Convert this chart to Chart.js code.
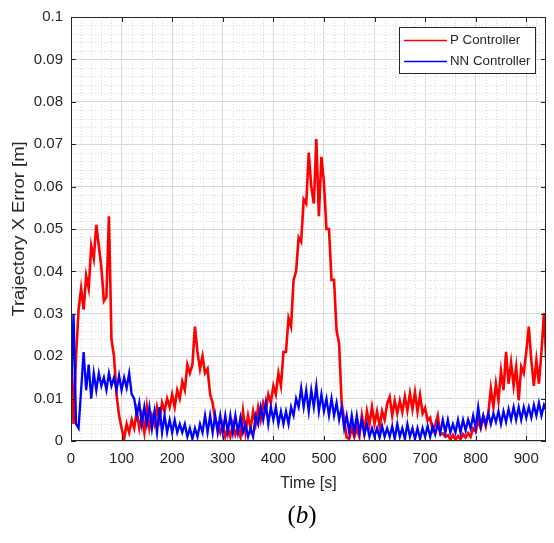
<!DOCTYPE html>
<html>
<head>
<meta charset="utf-8">
<script src="https://cdn.jsdelivr.net/npm/chart.js@4/dist/chart.umd.min.js"></script>
<style>
  html, body { margin: 0; padding: 0; background: #fff; }
  #wrap { position: relative; width: 554px; height: 543px; }
  #caption {
    position: absolute; left: 250px; width: 104px; top: 502px;
    text-align: center; font-family: "Liberation Serif", "DejaVu Serif", serif;
    font-size: 25px; color: #000; line-height: 26px;
  }
</style>
</head>
<body>
<div id="wrap">
  <canvas id="chart" width="554" height="543"></canvas>
  <div id="caption">(<i>b</i>)</div>
</div>
<script>
// Trajectory X error, P controller vs NN controller

// sample times [s]
const timeS = [
  0, 5, 10, 15, 20, 25, 30, 35, 40, 45,
  50, 55, 60, 65, 70, 75, 80, 85, 90, 95,
  100, 105, 110, 115, 120, 125, 130, 135, 140, 145,
  150, 155, 160, 165, 170, 175, 180, 185, 190, 195,
  200, 205, 210, 215, 220, 225, 230, 235, 240, 245,
  250, 255, 260, 265, 270, 275, 280, 285, 290, 295,
  300, 305, 310, 315, 320, 325, 330, 335, 340, 345,
  350, 355, 360, 365, 370, 375, 380, 385, 390, 395,
  400, 405, 410, 415, 420, 425, 430, 435, 440, 445,
  450, 455, 460, 465, 470, 475, 480, 485, 490, 495,
  500, 505, 510, 515, 520, 525, 530, 535, 540, 545,
  550, 555, 560, 565, 570, 575, 580, 585, 590, 595,
  600, 605, 610, 615, 620, 625, 630, 635, 640, 645,
  650, 655, 660, 665, 670, 675, 680, 685, 690, 695,
  700, 705, 710, 715, 720, 725, 730, 735, 740, 745,
  750, 755, 760, 765, 770, 775, 780, 785, 790, 795,
  800, 805, 810, 815, 820, 825, 830, 835, 840, 845,
  850, 855, 860, 865, 870, 875, 880, 885, 890, 895,
  900, 905, 910, 915, 920, 925, 930, 935, 940
];

// P controller error [m]
const pController = [
  0.024, 0.004, 0.020, 0.031, 0.036, 0.031, 0.039, 0.036, 0.046, 0.043,
  0.051, 0.046, 0.041, 0.033, 0.034, 0.053, 0.024, 0.020, 0.011, 0.006,
  0.003, 0.0005, 0.004, 0.002, 0.005, 0.003, 0.007, 0.003, 0.006, 0.002,
  0.008, 0.003, 0.006, 0.004, 0.008, 0.005, 0.009, 0.007, 0.010, 0.008,
  0.011, 0.008, 0.012, 0.010, 0.014, 0.012, 0.018, 0.016, 0.018, 0.027,
  0.021, 0.017, 0.020, 0.016, 0.017, 0.011, 0.009, 0.005, 0.004, 0.002,
  0.004, 0.001, 0.003, 0.001, 0.004, 0.0015, 0.003, 0.001, 0.007, 0.002,
  0.006, 0.003, 0.007, 0.004, 0.008, 0.005, 0.009, 0.007, 0.011, 0.009,
  0.013, 0.011, 0.016, 0.013, 0.021, 0.021, 0.029, 0.027, 0.038, 0.040,
  0.048, 0.047, 0.057, 0.056, 0.068, 0.060, 0.056, 0.0712, 0.053, 0.067,
  0.061, 0.050, 0.050, 0.038, 0.038, 0.026, 0.023, 0.009, 0.005, 0.0008,
  0.0005, 0.003, 0.001, 0.003, 0.001, 0.006, 0.002, 0.007, 0.004, 0.008,
  0.004, 0.007, 0.0035, 0.007, 0.005, 0.0088, 0.0104, 0.006, 0.0095, 0.0065,
  0.0095, 0.0068, 0.0105, 0.0072, 0.0112, 0.0075, 0.0115, 0.007, 0.0108, 0.0065,
  0.0078, 0.0048, 0.0055, 0.0025, 0.0038, 0.006, 0.0015, 0.0018, 0.001, 0.0014,
  0.0003, 0.0014, 0.0003, 0.0012, 0.0004, 0.0016, 0.0008, 0.0019, 0.001, 0.003,
  0.0022, 0.0048, 0.003, 0.0058, 0.0035, 0.0066, 0.0124, 0.008, 0.0135, 0.0095,
  0.0165, 0.012, 0.021, 0.0135, 0.0185, 0.013, 0.0175, 0.0096, 0.0175, 0.016,
  0.021, 0.027, 0.019, 0.013, 0.019, 0.0135, 0.021, 0.0302, 0.0175
];

// NN controller error [m]
const nnController = [
  0.010, 0.030, 0.004, 0.003, 0.012, 0.021, 0.012, 0.018, 0.010, 0.016,
  0.012, 0.016, 0.013, 0.015, 0.012, 0.016, 0.013, 0.015, 0.012, 0.0155,
  0.012, 0.015, 0.0125, 0.016, 0.011, 0.010, 0.006, 0.009, 0.004, 0.008,
  0.004, 0.008, 0.003, 0.007, 0.002, 0.008, 0.002, 0.006, 0.002, 0.005,
  0.002, 0.005, 0.002, 0.004, 0.002, 0.004, 0.001, 0.003, 0.0005, 0.003,
  0.001, 0.004, 0.002, 0.006, 0.002, 0.006, 0.002, 0.006, 0.002, 0.006,
  0.002, 0.006, 0.002, 0.006, 0.002, 0.006, 0.002, 0.0055, 0.002, 0.004,
  0.001, 0.003, 0.001, 0.006, 0.004, 0.008, 0.005, 0.009, 0.004, 0.008,
  0.005, 0.008, 0.004, 0.007, 0.004, 0.007, 0.004, 0.008, 0.006, 0.010,
  0.008, 0.0125, 0.008, 0.012, 0.007, 0.012, 0.008, 0.013, 0.007, 0.011,
  0.007, 0.010, 0.006, 0.010, 0.006, 0.009, 0.005, 0.008, 0.003, 0.006,
  0.002, 0.006, 0.002, 0.006, 0.002, 0.005, 0.0015, 0.004, 0.001, 0.003,
  0.001, 0.003, 0.0008, 0.0035, 0.001, 0.003, 0.001, 0.0035, 0.0005, 0.004,
  0.001, 0.003, 0.0005, 0.004, 0.001, 0.003, 0.0005, 0.003, 0.0005, 0.003,
  0.001, 0.0035, 0.001, 0.0035, 0.0015, 0.004, 0.002, 0.005, 0.002, 0.005,
  0.002, 0.004, 0.002, 0.005, 0.002, 0.005, 0.0025, 0.005, 0.003, 0.006,
  0.003, 0.008, 0.0035, 0.006, 0.004, 0.0065, 0.004, 0.0065, 0.0045, 0.007,
  0.004, 0.007, 0.0045, 0.0075, 0.005, 0.008, 0.005, 0.008, 0.005, 0.008,
  0.0055, 0.008, 0.0055, 0.0085, 0.006, 0.009, 0.006, 0.0085, 0.007
];

const seriesNames = ['P Controller', 'NN Controller'];
const seriesColors = ['#ff0000', '#0000ff'];

const textColor = '#262626';
Chart.defaults.font.family = '"Liberation Sans", Arial, sans-serif';
Chart.defaults.color = textColor;

function toPoints(values) {
  return values.map((v, i) => ({ x: timeS[i], y: v }));
}

// dotted minor grid, box with inward ticks, legend and y title
const matlabLook = {
  id: 'matlabLook',
  beforeDatasetsDraw(chart) {
    const { ctx, chartArea: a, scales: { x, y } } = chart;
    ctx.save();
    ctx.strokeStyle = '#d9d9d9';
    ctx.lineWidth = 1;
    ctx.setLineDash([1, 2]);
    for (let t = 20; t < x.max; t += 20) {
      if (t % 100 === 0) continue;
      const px = Math.round(x.getPixelForValue(t)) + 0.5;
      ctx.beginPath(); ctx.moveTo(px, a.top); ctx.lineTo(px, a.bottom); ctx.stroke();
    }
    for (let k = 1; k < 50; k++) {
      if (k % 5 === 0) continue;
      const py = Math.round(y.getPixelForValue(k * 0.002)) + 0.5;
      ctx.beginPath(); ctx.moveTo(a.left, py); ctx.lineTo(a.right, py); ctx.stroke();
    }
    ctx.restore();
  },
  afterDatasetsDraw(chart) {
    const { ctx, chartArea: a, scales: { x, y } } = chart;
    ctx.save();
    ctx.strokeStyle = textColor;
    ctx.lineWidth = 1;
    ctx.strokeRect(a.left + 0.5, a.top + 0.5, a.right - a.left - 1, a.bottom - a.top - 1);
    const tl = 5;
    ctx.beginPath();
    x.ticks.forEach(t => {
      const px = Math.round(x.getPixelForValue(t.value)) + 0.5;
      ctx.moveTo(px, a.bottom); ctx.lineTo(px, a.bottom - tl);
      ctx.moveTo(px, a.top); ctx.lineTo(px, a.top + tl);
    });
    y.ticks.forEach(t => {
      const py = Math.round(y.getPixelForValue(t.value)) + 0.5;
      ctx.moveTo(a.left, py); ctx.lineTo(a.left + tl, py);
      ctx.moveTo(a.right, py); ctx.lineTo(a.right - tl, py);
    });
    ctx.stroke();

    // legend
    const lx = 399, ly = 27, lw = 136, lh = 46;
    ctx.fillStyle = '#fff';
    ctx.fillRect(lx, ly, lw, lh);
    ctx.strokeRect(lx + 0.5, ly + 0.5, lw, lh);
    ctx.font = '13.3px "Liberation Sans", Arial, sans-serif';
    ctx.textBaseline = 'middle';
    ctx.textAlign = 'left';
    seriesNames.forEach((name, i) => {
      const cy = ly + 13.5 + i * 21;
      ctx.strokeStyle = seriesColors[i];
      ctx.lineWidth = 1.5;
      ctx.beginPath(); ctx.moveTo(lx + 5, cy); ctx.lineTo(lx + 48, cy); ctx.stroke();
      ctx.fillStyle = textColor;
      ctx.fillText(name, lx + 51, cy);
    });

    // y axis title, slightly stretched like the source figure
    ctx.translate(20, (a.top + a.bottom) / 2);
    ctx.rotate(-Math.PI / 2);
    ctx.scale(1.15, 1);
    ctx.font = '16px "Liberation Sans", Arial, sans-serif';
    ctx.textAlign = 'center';
    ctx.fillStyle = textColor;
    ctx.fillText('Trajectory X Error [m]', 0, 0);
    ctx.restore();
  }
};

new Chart(document.getElementById('chart'), {
  type: 'line',
  data: {
    datasets: [{
      label: seriesNames[0],
      data: toPoints(pController),
      borderColor: seriesColors[0],
      borderWidth: 2.6,
      order: 2
    }, {
      label: seriesNames[1],
      data: toPoints(nnController),
      borderColor: seriesColors[1],
      borderWidth: 2.3,
      order: 1
    }]
  },
  options: {
    responsive: false,
    animation: false,
    devicePixelRatio: 1,
    layout: { padding: { top: 13, right: 8, left: 0, bottom: 0 } },
    elements: { point: { radius: 0 }, line: { tension: 0, borderJoinStyle: 'miter' } },
    plugins: { legend: { display: false }, tooltip: { enabled: false } },
    scales: {
      x: {
        type: 'linear',
        min: 0,
        max: 939,
        afterFit: s => { s.height = 102; },
        border: { display: false },
        grid: { color: '#d9d9d9', drawTicks: false },
        ticks: { stepSize: 100, includeBounds: false, padding: 9, maxRotation: 0, font: { size: 15 } },
        title: { display: true, text: 'Time [s]', font: { size: 16 }, padding: { top: 0, bottom: 50 } }
      },
      y: {
        min: 0,
        max: 0.1,
        afterFit: s => { s.width = 71; },
        border: { display: false },
        grid: { color: '#d9d9d9', drawTicks: false },
        ticks: { stepSize: 0.01, padding: 8, font: { size: 15 }, callback: v => String(Number(v.toFixed(2))) }
      }
    }
  },
  plugins: [matlabLook]
});
</script>
</body>
</html>
